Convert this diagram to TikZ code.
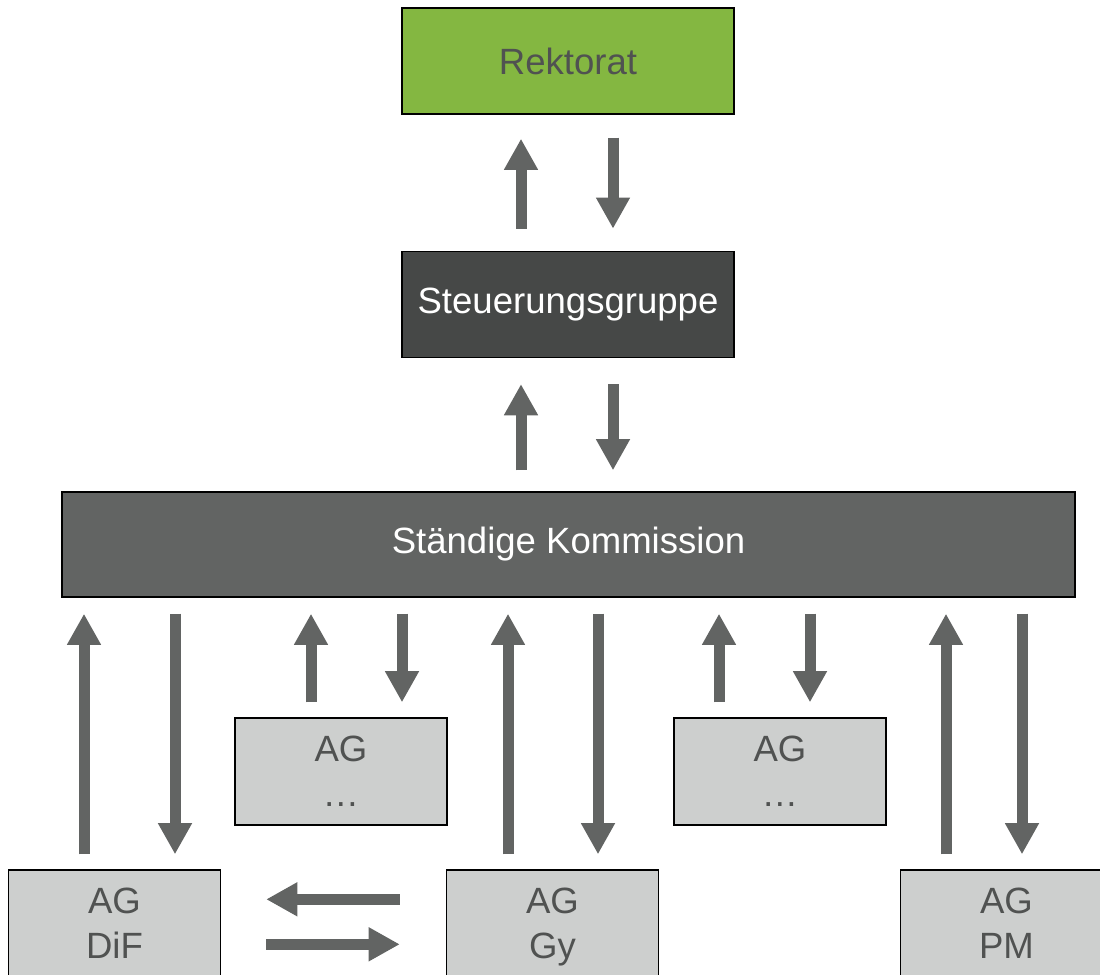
\documentclass[tikz,border=0pt]{standalone}
\usepackage{fontspec}
\setmainfont{Liberation Sans}
\usetikzlibrary{arrows.meta, positioning, calc}
\definecolor{rektgreen}{HTML}{84B741}
\definecolor{stgdark}{HTML}{464847}
\definecolor{komgray}{HTML}{626463}
\definecolor{aglight}{HTML}{CDCFCE}
\definecolor{txtgray}{HTML}{505251}
\definecolor{arrgray}{HTML}{626463}
\begin{document}
\begin{tikzpicture}[
    box/.style={
        rectangle,
        draw=black,
        line width=1pt,
        inner sep=0pt,
        align=center,
        text=txtgray,
        font=\fontsize{26}{32}\selectfont
    },
    topbox/.style={box, minimum width=8.3cm, minimum height=2.65cm},
    agbox/.style={box, fill=aglight, text depth=0pt, minimum width=5.3cm, minimum height=2.675cm},
    bigarrow/.style={
        draw=arrgray,
        line width=0.275cm,
        -{Triangle[length=0.78cm, width=0.8cm]}
    }
]
\useasboundingbox (0,0) rectangle (27.5,-24.35);

% Nodes
\node [topbox, fill=rektgreen] (rek) at (14.2,-1.525) {Rektorat};
\node [topbox, fill=stgdark, text=white, below=3.4cm of rek] (stg) {Steuerungsgruppe};
\node [box, fill=komgray, text=white, minimum width=25.325cm, minimum height=2.625cm] (kom) at (14.2125,-13.6125) {Ständige Kommission};
\node [agbox] (ag1) at (8.525,-19.2875) {AG\\…};
\node [agbox] (ag2) at (19.5,-19.2875) {AG\\…};
\node [agbox] (dif) at (2.8625,-23.0875) {AG\\DiF};
\node [agbox] (gy) at (13.8125,-23.0875) {AG\\Gy};
\node [agbox] (pm) at (25.1625,-23.0875) {AG\\PM};

% Edges
\draw [bigarrow, shorten <=0.55cm, shorten >=0.6cm] ([xshift=-1.175cm]stg.north) -- ([xshift=-1.175cm]rek.south);
\draw [bigarrow, shorten <=0.575cm, shorten >=0.55cm] ([xshift=1.125cm]rek.south) -- ([xshift=1.125cm]stg.north);
\draw [bigarrow, shorten <=0.525cm, shorten >=0.65cm] ([xshift=-1.175cm]kom.north -| stg.north) -- ([xshift=-1.175cm]stg.south);
\draw [bigarrow, shorten <=0.65cm, shorten >=0.525cm] ([xshift=1.125cm]stg.south) -- ([xshift=1.125cm]kom.north -| stg.north);

\foreach \ag/\up/\dn in {dif/-0.7625/1.5125, gy/-1.1125/1.1375, pm/-1.5125/0.3875, ag1/-0.75/1.525, ag2/-1.525/0.75} {
    \draw [bigarrow, shorten <=0.375cm, shorten >=0.4cm] ($(\ag.north)+(\up,0)$) -- ($(kom.south -| \ag.north)+(\up,0)$);
    \draw [bigarrow, shorten <=0.4cm, shorten >=0.375cm] ($(kom.south -| \ag.north)+(\dn,0)$) -- ($(\ag.north)+(\dn,0)$);
}

\draw [bigarrow, shorten <=1.15cm, shorten >=1.125cm] ([yshift=-0.75cm]gy.north west) -- ([yshift=-0.75cm]dif.north east);
\draw [bigarrow, shorten <=1.125cm, shorten >=1.15cm] ([yshift=-1.875cm]dif.north east) -- ([yshift=-1.875cm]gy.north west);

\end{tikzpicture}
\end{document}
